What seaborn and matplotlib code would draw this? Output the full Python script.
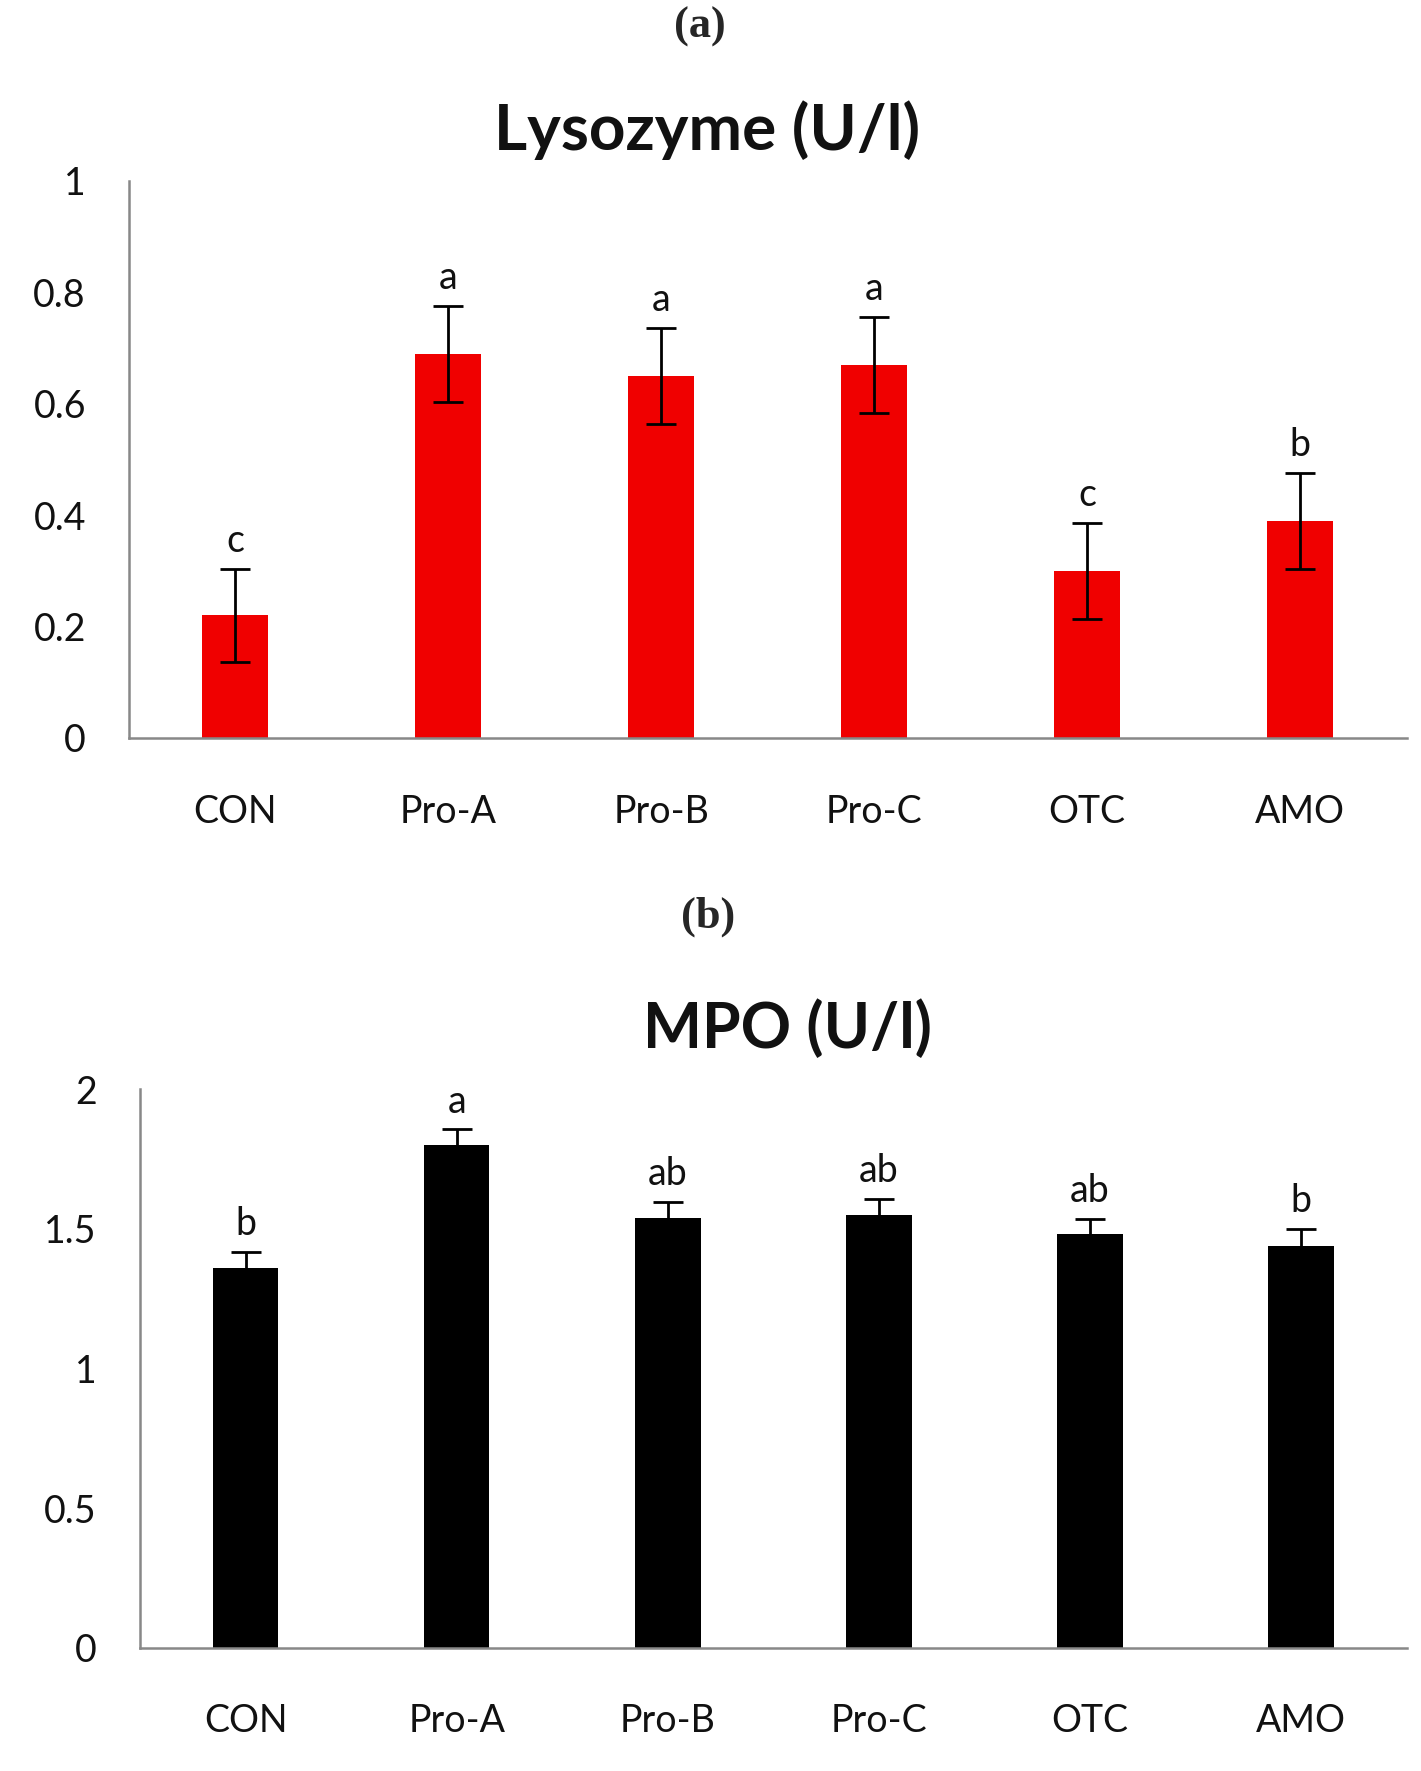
import seaborn as sns
import numpy as np
import matplotlib.pyplot as plt
from matplotlib.ticker import FuncFormatter

groups = ["CON", "Pro-A", "Pro-B", "Pro-C", "OTC", "AMO"]

lyso_mean = [0.22, 0.69, 0.65, 0.67, 0.30, 0.39]
lyso_err = [0.083, 0.086, 0.086, 0.086, 0.086, 0.086]
lyso_letters = ["c", "a", "a", "a", "c", "b"]
lyso_ticks = [0, 0.2, 0.4, 0.6, 0.8, 1]

mpo_mean = [1.36, 1.80, 1.54, 1.55, 1.48, 1.44]
mpo_err = [0.057, 0.056, 0.057, 0.057, 0.056, 0.06]
mpo_letters = ["b", "a", "ab", "ab", "ab", "b"]
mpo_ticks = [0, 0.5, 1, 1.5, 2]

sns.set_style("white")
plt.rcParams["font.family"] = ["Lato", "DejaVu Sans"]

fig = plt.figure(figsize=(14.21, 17.71), dpi=100)
ax_a = fig.add_axes([0.0908, 0.5833, 0.899, 0.3145])
ax_b = fig.add_axes([0.0985, 0.0695, 0.8915, 0.3155])

spine_col = "#888888"


def panel(ax, means, errs, letters, ticks, color):
    sns.barplot(x=groups, y=means, color=color, width=0.31, saturation=1,
                edgecolor="none", ax=ax)
    xs = np.arange(len(groups))
    ax.errorbar(xs, means, yerr=errs, fmt="none", ecolor="black",
                elinewidth=2, capsize=11, capthick=2)
    for x, m, e, t in zip(xs, means, errs, letters):
        ax.annotate(t, (x, m + e), xytext=(0, 7), textcoords="offset points",
                    ha="center", va="bottom", fontsize=27, color="#111111")
    ax.set_xlim(-0.5, len(groups) - 0.5)
    ax.set_ylim(ticks[0], ticks[-1])
    ax.set_yticks(ticks)
    ax.yaxis.set_major_formatter(FuncFormatter(lambda v, p: f"{v:g}"))
    sns.despine(ax=ax)
    for s in ["left", "bottom"]:
        ax.spines[s].set_color(spine_col)
        ax.spines[s].set_linewidth(1.8)
    ax.tick_params(axis="y", length=0, pad=31, labelsize=27, labelcolor="#111111")
    ax.tick_params(axis="x", length=0, pad=40, labelsize=27, labelcolor="#111111")
    ax.set_xlabel("")
    ax.set_ylabel("")


panel(ax_a, lyso_mean, lyso_err, lyso_letters, lyso_ticks, "#F00000")
panel(ax_b, mpo_mean, mpo_err, mpo_letters, mpo_ticks, "black")

fig.text(0.4926, 0.979, "(a)", ha="center", va="baseline", fontsize=32,
         fontweight="bold", family="Liberation Serif")
fig.text(0.4975, 0.9153, "Lysozyme (U/l)", ha="center", va="baseline",
         fontsize=46, fontweight="bold", color="#111111")
fig.text(0.498, 0.476, "(b)", ha="center", va="baseline", fontsize=32,
         fontweight="bold", family="Liberation Serif")
fig.text(0.554, 0.4082, "MPO (U/l)", ha="center", va="baseline", fontsize=45,
         fontweight="bold", color="#111111")

fig.savefig("out.png", dpi=100)
